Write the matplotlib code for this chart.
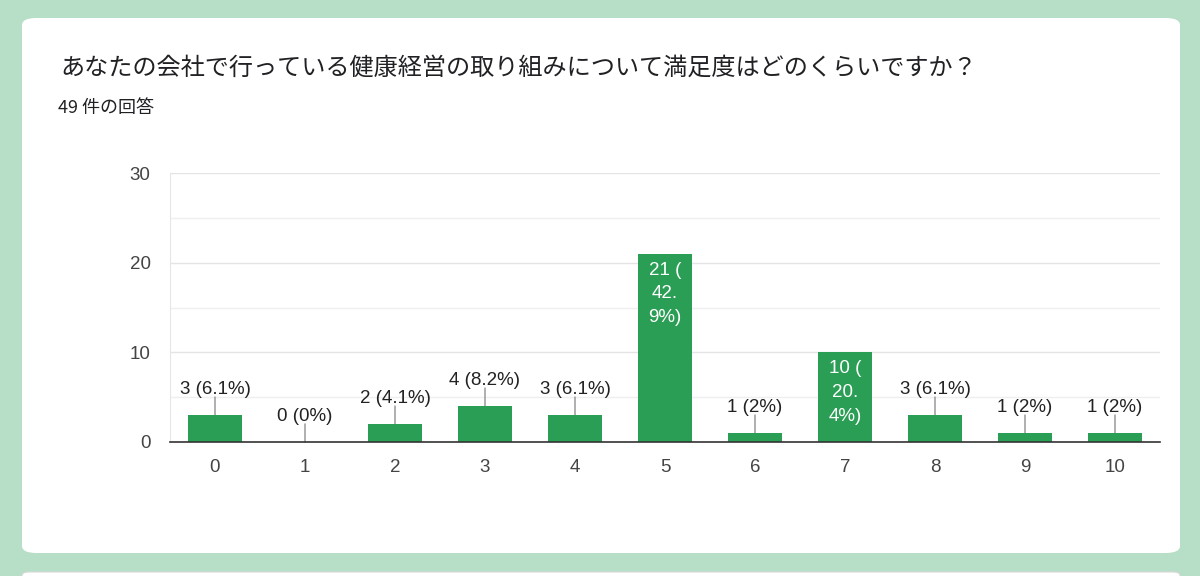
import matplotlib
matplotlib.use("Agg")
import matplotlib.pyplot as plt
from matplotlib.patches import FancyBboxPatch
from matplotlib.ticker import MultipleLocator

plt.rcParams['font.family'] = ['Liberation Sans', 'Noto Sans CJK JP', 'DejaVu Sans']

title = "あなたの会社で行っている健康経営の取り組みについて満足度はどのくらいですか？"
subtitle = "49 件の回答"
categories = ["0", "1", "2", "3", "4", "5", "6", "7", "8", "9", "10"]
counts = [3, 0, 2, 4, 3, 21, 1, 10, 3, 1, 1]
total = 49
inside = [5, 7]   # bars whose label is written inside

bar_color = "#2b9e55"
bg_color = "#b7dec6"

W, H = 1200, 576
fig = plt.figure(figsize=(W / 100, H / 100), dpi=100)
fig.patch.set_facecolor(bg_color)

# white card
card = FancyBboxPatch((22 / W, 1 - 553 / H), (1180 - 22) / W, (553 - 18) / H,
                      boxstyle="round,pad=0,rounding_size=0.012",
                      transform=fig.transFigure, facecolor="white",
                      edgecolor="none", zorder=-2)
fig.patches.append(card)
# top of next card
card2 = FancyBboxPatch((22 / W, -0.05), (1180 - 22) / W, 0.05 + (576 - 572) / H,
                       boxstyle="round,pad=0,rounding_size=0.006",
                       transform=fig.transFigure, facecolor="white",
                       edgecolor="#d8d8d8", linewidth=0.8, zorder=-2)
fig.patches.append(card2)

fig.text(60 / W, 1 - 68 / H, title, fontsize=17.4, color="#202124",
         family=['Noto Sans CJK JP', 'DejaVu Sans'], va="center", ha="left")
fig.text(58 / W, 1 - 108 / H, subtitle, fontsize=13, color="#202124",
         family=['Noto Sans CJK JP', 'DejaVu Sans'], va="center", ha="left")

ax = fig.add_axes([170 / W, 1 - 442 / H, 990 / W, 269 / H])
ax.set_facecolor("white")
x = list(range(len(categories)))
ax.bar(x, counts, width=0.61, color=bar_color, zorder=3)

ax.set_xlim(-0.5, len(categories) - 0.5)
ax.set_ylim(0, 30)
ax.yaxis.set_major_locator(MultipleLocator(10))
ax.yaxis.set_minor_locator(MultipleLocator(5))
ax.grid(axis="y", which="major", color="#e4e4e4", linewidth=1, zorder=0)
ax.grid(axis="y", which="minor", color="#efefef", linewidth=1, zorder=0)
ax.set_xticks(x)
ax.set_xticklabels(categories)
ax.tick_params(axis="both", length=0, labelsize=13.5, labelcolor="#444444")
ax.tick_params(axis="x", pad=12)
ax.tick_params(axis="y", pad=14)
ax.tick_params(axis="y", which="minor", length=0)
for side in ["top", "right"]:
    ax.spines[side].set_visible(False)
ax.spines["left"].set_color("#e6e6e6")
ax.spines["bottom"].set_color("#333333")
ax.spines["bottom"].set_linewidth(1.2)
ax.spines["bottom"].set_zorder(4)


def fmt(c):
    p = round(c / total * 100, 1)
    s = ("%.1f" % p).rstrip("0").rstrip(".")
    return "%d (%s%%)" % (c, s)


for i, c in enumerate(counts):
    label = fmt(c)
    if i in inside:
        num, pct = label.split(" ")
        pct = pct[1:-1]
        lines = [num + " (", pct[:3], pct[3:] + ")"]
        ax.annotate("\n".join(lines), (i, c), xytext=(0, -8),
                    textcoords="offset pixels", ha="center", va="top",
                    fontsize=13.5, color="white", linespacing=1.52, zorder=5)
    else:
        ax.annotate("", (i, c), xytext=(0, 18), textcoords="offset pixels",
                    arrowprops=dict(arrowstyle="-", color="#9a9a9a", lw=1.1,
                                    shrinkA=0, shrinkB=0), zorder=2)
        ax.annotate(label, (i, c), xytext=(0, 17), textcoords="offset pixels",
                    ha="center", va="bottom", fontsize=13.5, color="#222222",
                    zorder=5)

fig.savefig("out.png", dpi=100, facecolor=fig.get_facecolor())
